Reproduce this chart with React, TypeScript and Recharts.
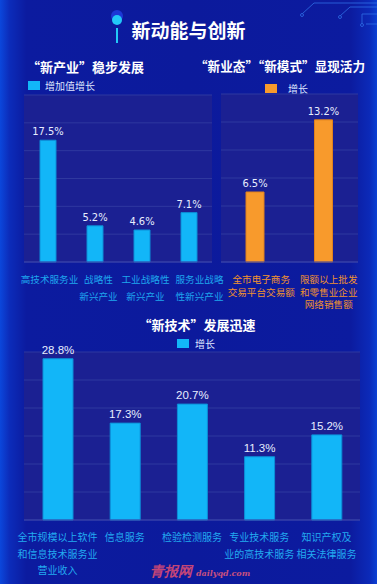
import { BarChart, Bar, XAxis, YAxis, CartesianGrid, LabelList } from 'recharts'

// “新产业”稳步发展
const industryNames = ['高技术服务业', '战略性\n新兴产业', '工业战略性\n新兴产业', '服务业战略\n性新兴产业']
const industryGrowth = [17.5, 5.2, 4.6, 7.1]
const industryTicks = [0, 4, 8, 12, 16, 20, 24]

// “新业态”“新模式”显现活力
const modeNames = ['全市电子商务\n交易平台交易额', '限额以上批发\n和零售业企业\n网络销售额']
const modeGrowth = [6.5, 13.2]
const modeTicks = [0, 2.6, 5.2, 7.8, 10.4, 13, 15.6]

// “新技术”发展迅速
const techNames = ['全市规模以上软件\n和信息技术服务业\n营业收入', '信息服务', '检验检测服务', '专业技术服务\n业的高技术服务', '知识产权及\n相关法律服务']
const techGrowth = [28.8, 17.3, 20.7, 11.3, 15.2]
const techTicks = [0, 5, 10, 15, 20, 25, 30]

const CYAN = '#12b6f8'
const ORANGE = '#f89a2c'
const PANEL = '#1b2092'
const GRID = '#2f389f'
const FONT = "'Noto Sans CJK SC', 'Noto Sans', sans-serif"

// small horizontal nudges so the wide category labels don't touch
const industryLabelShift = [2, 4, 4, 11]
const modeLabelShift = [6, 5]

const industryData = industryNames.map((name, i) => ({ name, value: industryGrowth[i] }))
const modeData = modeNames.map((name, i) => ({ name, value: modeGrowth[i] }))
const techData = techNames.map((name, i) => ({ name, value: techGrowth[i] }))

function MultiLineTick(props: any) {
  const { x, y, payload, index, color, lineHeight, fontSize, shift } = props
  const lines = String(payload.value).split('\n')
  const cx = x + (shift ? shift[index] || 0 : 0)
  return (
    <text x={cx} y={y} textAnchor="middle" fill={color} fontSize={fontSize} fontFamily={FONT}>
      {lines.map((line: string, i: number) => (
        <tspan key={i} x={cx} dy={i === 0 ? 21 : lineHeight}>
          {line}
        </tspan>
      ))}
    </text>
  )
}

function LegendItem({ left, top, color, label, gap }: { left: number; top: number; color: string; label: string; gap: number }) {
  return (
    <div style={{ position: 'absolute', left, top, display: 'flex', alignItems: 'center', fontFamily: FONT, fontSize: 10, color: '#dfe6ff' }}>
      <span style={{ display: 'inline-block', width: 12, height: 9, background: color, marginRight: gap }} />
      <span>{label}</span>
    </div>
  )
}

function Title({ left, top, text, size, width }: { left: number; top: number; text: string; size: number; width?: number }) {
  return (
    <div
      style={{
        position: 'absolute',
        left,
        top,
        width,
        textAlign: width ? 'center' : 'left',
        fontFamily: FONT,
        fontWeight: 700,
        fontSize: size,
        color: '#ffffff',
        whiteSpace: 'nowrap',
        lineHeight: 1,
      }}
    >
      {text}
    </div>
  )
}

export default function App() {
  return (
    <div
      style={{
        position: 'absolute',
        left: 0,
        top: 0,
        width: 377,
        height: 584,
        overflow: 'hidden',
        background:
          'linear-gradient(90deg, #0b47dc 0%, #0c2cba 2.5%, #0c1b9f 7%, #0c1a9c 50%, #0c1b9f 93%, #0c2ab8 98%, #0b40d4 100%)',
      }}
    >
      {/* header decoration */}
      <svg width={377} height={60} style={{ position: 'absolute', left: 0, top: 0 }}>
        <circle cx={117} cy={16} r={6} fill="#1c38d6" />
        <circle cx={117} cy={20} r={5} fill="#22c8f8" />
        <line x1={117} y1={28} x2={117} y2={43} stroke="#22c8f8" strokeWidth={2} />
        <g stroke="#2f6fe6" strokeWidth={1} fill="none" opacity={0.8}>
          <polyline points="302,14 314,3 377,3" />
          <polyline points="340,16 350,7 377,7" />
          <polyline points="362,24 362,14 377,14" />
          <polyline points="366,24 377,24" />
          <circle cx={302} cy={15} r={1.5} />
          <circle cx={340} cy={17} r={1.5} />
          <circle cx={362} cy={25} r={1.5} />
        </g>
      </svg>

      <Title left={0} top={20} width={377} text="新动能与创新" size={19} />
      <Title left={27} top={60} text="“新产业”稳步发展" size={13} />
      <Title left={195} top={60} text="“新业态”“新模式”显现活力" size={12.6} />
      <Title left={0} top={318} width={394} text="“新技术”发展迅速" size={13} />

      <LegendItem left={28} top={78} color={CYAN} label="增加值增长" gap={5} />
      <LegendItem left={265} top={81} color={ORANGE} label="增长" gap={11} />
      <LegendItem left={177} top={336} color={CYAN} label="增长" gap={6} />

      <div style={{ position: 'absolute', left: 0, top: 74 }}>
        <BarChart width={240} height={246} data={industryData} margin={{ top: 21, right: 28, bottom: 0, left: 24 }} barSize={16}>
          <CartesianGrid vertical={false} stroke={GRID} fill={PANEL} />
          <YAxis hide domain={[0, 24]} ticks={industryTicks} />
          <XAxis
            dataKey="name"
            height={58}
            interval={0}
            tickSize={0}
            tickMargin={0}
            axisLine={{ stroke: '#3a45ad' }}
            tick={<MultiLineTick color="#1ea6ee" lineHeight={17} fontSize={9.6} shift={industryLabelShift} />}
          />
          <Bar dataKey="value" fill={CYAN} stroke="#0c8fd8" strokeWidth={1} isAnimationActive={false}>
            <LabelList
              dataKey="value"
              position="top"
              formatter={(v: any) => `${v}%`}
              fill="#e8eeff"
              fontSize={11}
              fontFamily="'Liberation Sans Narrow', 'DejaVu Sans Condensed', sans-serif"
            />
          </Bar>
        </BarChart>
      </div>

      <div style={{ position: 'absolute', left: 200, top: 74 }}>
        <BarChart width={177} height={246} data={modeData} margin={{ top: 20, right: 19, bottom: 0, left: 21 }} barSize={18}>
          <CartesianGrid vertical={false} stroke={GRID} fill={PANEL} />
          <YAxis hide domain={[0, 15.6]} ticks={modeTicks} />
          <XAxis
            dataKey="name"
            height={58}
            interval={0}
            tickSize={0}
            tickMargin={0}
            axisLine={{ stroke: '#3a45ad' }}
            tick={<MultiLineTick color="#f0922e" lineHeight={12.5} fontSize={9.6} shift={modeLabelShift} />}
          />
          <Bar dataKey="value" fill={ORANGE} stroke="#e0801c" strokeWidth={1} isAnimationActive={false}>
            <LabelList
              dataKey="value"
              position="top"
              formatter={(v: any) => `${v}%`}
              fill="#e8eeff"
              fontSize={11}
              fontFamily="'Liberation Sans Narrow', 'DejaVu Sans Condensed', sans-serif"
            />
          </Bar>
        </BarChart>
      </div>

      <div style={{ position: 'absolute', left: 0, top: 337 }}>
        <BarChart width={377} height={247} data={techData} margin={{ top: 15, right: 17, bottom: 0, left: 24 }} barSize={30}>
          <CartesianGrid vertical={false} stroke={GRID} fill={PANEL} />
          <YAxis hide domain={[0, 30]} ticks={techTicks} />
          <XAxis
            dataKey="name"
            height={64}
            interval={0}
            tickSize={0}
            tickMargin={0}
            axisLine={{ stroke: '#3a45ad' }}
            tick={<MultiLineTick color="#22aaf0" lineHeight={16.5} fontSize={10} />}
          />
          <Bar dataKey="value" fill={CYAN} stroke="#0c8fd8" strokeWidth={1} isAnimationActive={false}>
            <LabelList
              dataKey="value"
              position="top"
              formatter={(v: any) => `${v}%`}
              fill="#e8eeff"
              fontSize={11.5}
              fontFamily="'Liberation Sans', 'DejaVu Sans', sans-serif"
            />
          </Bar>
        </BarChart>
      </div>

      <div
        style={{
          position: 'absolute',
          left: 150,
          top: 563,
          fontFamily: "'DejaVu Serif', serif",
          fontStyle: 'italic',
          fontWeight: 700,
          fontSize: 14,
          color: '#c24577',
          whiteSpace: 'nowrap',
        }}
      >
        青报网<span style={{ fontSize: 8, marginLeft: 4, color: '#c8507e' }}>dailyqd.com</span>
      </div>
    </div>
  )
}
